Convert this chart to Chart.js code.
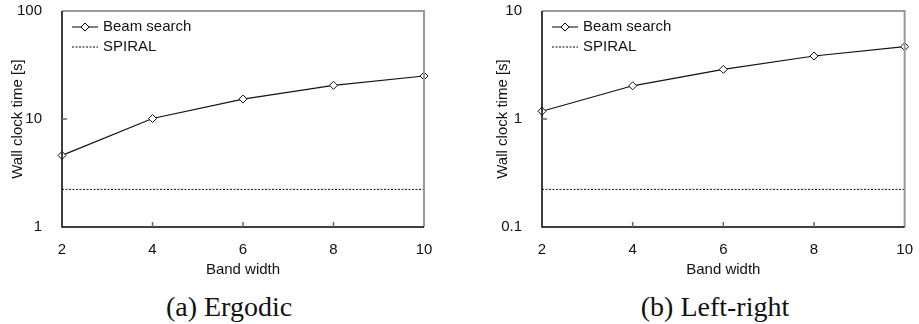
<!DOCTYPE html>
<html>
<head>
<meta charset="utf-8">
<script src="https://cdn.jsdelivr.net/npm/chart.js@4/dist/chart.umd.min.js"></script>
<style>
  body { margin: 0; background: #fff; }
  .panel { position: absolute; top: 0; height: 324px; }
  .panel canvas { position: absolute; left: 0; top: 0; }
  .cap { position: absolute; top: 291px; font-family: "Liberation Serif", serif; font-size: 28px; line-height: 32px; color: #111; white-space: nowrap; transform: translateX(-50%); }
</style>
</head>
<body>
<div class="panel" id="pa" style="left:0;width:460px;"><canvas id="ca"></canvas><div class="cap" style="left:229px;">(a) Ergodic</div></div>
<div class="panel" id="pb" style="left:460px;width:459px;"><canvas id="cb"></canvas><div class="cap" style="left:255px;">(b) Left-right</div></div>
<script>
// band widths on the x axis
const bandWidths = ['2', '4', '6', '8', '10'];

// (a) Ergodic
const ergodicBeam = [4.6, 10.1, 15.3, 20.5, 25.0];
const ergodicSpiral = [2.23, 2.23, 2.23, 2.23, 2.23];
const ergodicTicks = [1, 10, 100];

// (b) Left-right
const leftRightBeam = [1.18, 2.03, 2.88, 3.83, 4.67];
const leftRightSpiral = [0.223, 0.223, 0.223, 0.223, 0.223];
const leftRightTicks = [0.1, 1, 10];

const seriesNames = ['Beam search', 'SPIRAL'];
const sans = '"Liberation Sans", Arial, sans-serif';

// draws frame, inner tick marks and the legend inside the plot
const framePlugin = {
  id: 'frame',
  afterDraw(chart) {
    const { ctx, chartArea: a, scales } = chart;
    ctx.save();
    // gray top and right border
    ctx.strokeStyle = '#999';
    ctx.lineWidth = 2;
    ctx.beginPath();
    ctx.moveTo(a.left, a.top);
    ctx.lineTo(a.right, a.top);
    ctx.lineTo(a.right, a.bottom);
    ctx.stroke();
    // black axes
    ctx.strokeStyle = '#000';
    ctx.lineWidth = 1.5;
    ctx.beginPath();
    ctx.moveTo(a.left, a.top);
    ctx.lineTo(a.left, a.bottom);
    ctx.lineTo(a.right, a.bottom);
    ctx.stroke();
    // inner ticks
    ctx.strokeStyle = '#666';
    ctx.lineWidth = 1.5;
    ctx.beginPath();
    scales.y.ticks.forEach(t => {
      const y = scales.y.getPixelForValue(t.value);
      if (Math.abs(y - a.top) < 2 || Math.abs(y - a.bottom) < 2) return;
      ctx.moveTo(a.left, y);
      ctx.lineTo(a.left + 5, y);
    });
    scales.x.ticks.forEach((t, i) => {
      const x = scales.x.getPixelForValue(i);
      if (Math.abs(x - a.left) < 2 || Math.abs(x - a.right) < 2) return;
      ctx.moveTo(x, a.bottom);
      ctx.lineTo(x, a.bottom - 5);
    });
    ctx.stroke();
    // legend
    const lx = a.left + 10, ly1 = a.top + 16, ly2 = a.top + 36;
    ctx.strokeStyle = '#000';
    ctx.lineWidth = 1;
    ctx.beginPath();
    ctx.moveTo(lx, ly1);
    ctx.lineTo(lx + 26, ly1);
    ctx.stroke();
    ctx.fillStyle = '#fff';
    ctx.beginPath();
    ctx.moveTo(lx + 13, ly1 - 4);
    ctx.lineTo(lx + 17, ly1);
    ctx.lineTo(lx + 13, ly1 + 4);
    ctx.lineTo(lx + 9, ly1);
    ctx.closePath();
    ctx.fill();
    ctx.stroke();
    ctx.setLineDash([2, 1.5]);
    ctx.beginPath();
    ctx.moveTo(lx, ly2);
    ctx.lineTo(lx + 26, ly2);
    ctx.stroke();
    ctx.setLineDash([]);
    ctx.fillStyle = '#111';
    ctx.font = '15px ' + sans;
    ctx.textBaseline = 'middle';
    ctx.fillText(seriesNames[0], lx + 31, ly1);
    ctx.fillText(seriesNames[1], lx + 31, ly2);
    ctx.restore();
  }
};

function makeChart(id, beam, spiral, ticks, leftPad, leftWidth, rightPad, w) {
  const canvas = document.getElementById(id);
  canvas.width = w;
  canvas.height = 285;
  canvas.style.width = w + 'px';
  canvas.style.height = '285px';
  return new Chart(canvas.getContext('2d'), {
    type: 'line',
    data: {
      labels: bandWidths,
      datasets: [
        {
          label: seriesNames[0],
          data: beam,
          borderColor: '#111',
          borderWidth: 1.2,
          pointStyle: 'rectRot',
          pointRadius: 4,
          pointBackgroundColor: '#fff',
          pointBorderColor: '#111',
          pointBorderWidth: 1,
          tension: 0
        },
        {
          label: seriesNames[1],
          data: spiral,
          borderColor: '#111',
          borderWidth: 1,
          borderDash: [2, 1.5],
          pointRadius: 0
        }
      ]
    },
    options: {
      responsive: false,
      animation: false,
      layout: { padding: { top: 11, right: rightPad, left: leftPad, bottom: 6 } },
      plugins: { legend: { display: false }, tooltip: { enabled: false } },
      scales: {
        x: {
          type: 'category',
          offset: false,
          grid: { display: false },
          border: { display: false },
          ticks: { color: '#111', font: { family: sans, size: 15 }, padding: 6, maxRotation: 0 },
          title: { display: true, text: 'Band width', color: '#111', font: { family: sans, size: 15 }, padding: { top: 0, bottom: 0 } },
          afterFit(s) { s.height = 52; }
        },
        y: {
          type: 'logarithmic',
          min: ticks[0],
          max: ticks[ticks.length - 1],
          grid: { display: false },
          border: { display: false },
          afterBuildTicks(s) { s.ticks = ticks.map(v => ({ value: v })); },
          ticks: { color: '#111', font: { family: sans, size: 15 }, padding: 12, callback: v => String(v) },
          title: { display: true, text: 'Wall clock time [s]', color: '#111', font: { family: sans, size: 15 }, padding: { top: 0, bottom: 0 } },
          afterFit(s) { s.width = leftWidth; s.paddingTop = 0; s.paddingBottom = 0; }
        }
      }
    },
    plugins: [framePlugin]
  });
}

makeChart('ca', ergodicBeam, ergodicSpiral, ergodicTicks, 9, 53, 36, 460);
makeChart('cb', leftRightBeam, leftRightSpiral, leftRightTicks, 34, 48, 10, 459);
</script>
</body>
</html>
